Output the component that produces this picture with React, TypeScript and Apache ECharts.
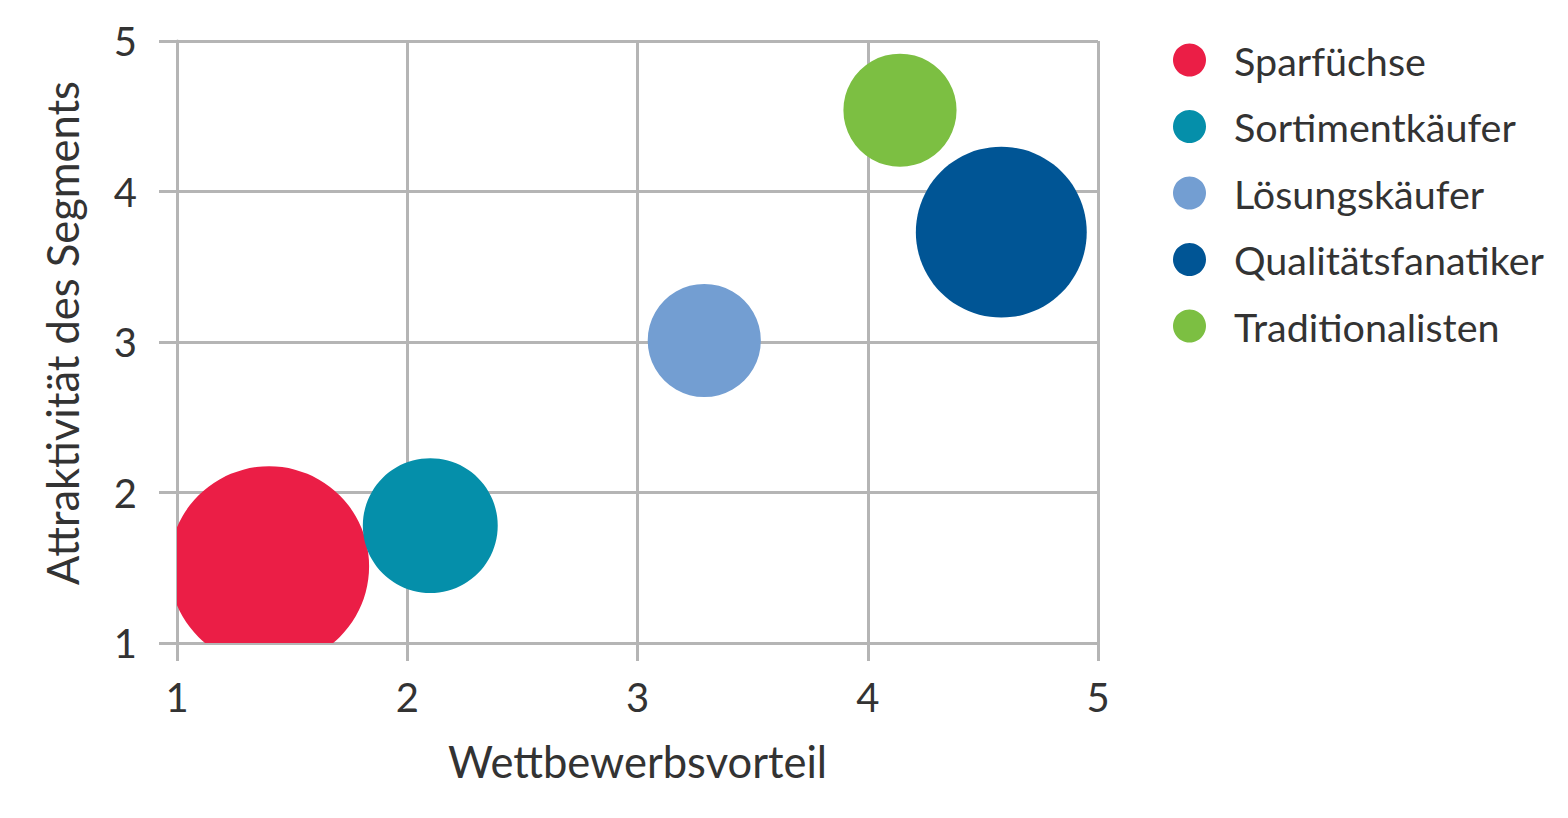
import React, { useEffect, useRef } from "react";
import * as echarts from "echarts";

const segments = ["Sparfüchse", "Sortimentkäufer", "Lösungskäufer", "Qualitätsfanatiker", "Traditionalisten"];
const wettbewerbsvorteil = [1.40, 2.10, 3.29, 4.58, 4.14];
const attraktivitaet = [1.51, 1.78, 3.01, 3.73, 4.54];
const volumen = [400, 182, 128, 292, 128];
const colors = ["#EB1E46", "#058FAA", "#739ED2", "#005595", "#7CBF42"];
const axisTicks = [1, 2, 3, 4, 5];

const FONT = "Lato, 'Open Sans', sans-serif";
const GRAY = "#b5b5b5";
const TEXT = "#333333";

export default function App() {
  const ref = useRef<HTMLDivElement>(null);
  useEffect(() => {
    if (!ref.current) return;
    const chart = echarts.init(ref.current, undefined, { renderer: "svg" });
    const axisCommon = {
      type: "value",
      min: axisTicks[0],
      max: axisTicks[axisTicks.length - 1],
      interval: 1,
      axisLine: { show: true, lineStyle: { color: GRAY, width: 3 } },
      axisTick: { show: true, length: 18, lineStyle: { color: GRAY, width: 3 } },
      splitLine: { show: true, lineStyle: { color: GRAY, width: 3 } },
      nameLocation: "middle",
    };
    chart.setOption({
      animation: false,
      textStyle: { fontFamily: FONT },
      grid: { left: 177, top: 41, width: 921, height: 602, containLabel: false },
      legend: {
        orient: "vertical",
        left: 1168,
        top: 35,
        icon: "circle",
        itemWidth: 33,
        itemHeight: 33,
        itemGap: 26.5,
        data: segments,
        textStyle: {
          fontSize: 39.5,
          lineHeight: 40,
          color: TEXT,
          fontFamily: FONT,
          padding: [0, 0, 0, 23],
        },
      },
      xAxis: {
        ...axisCommon,
        name: "Wettbewerbsvorteil",
        nameGap: 96,
        nameTextStyle: { fontSize: 43.5, color: TEXT, fontFamily: FONT },
        axisLabel: { fontSize: 40, color: TEXT, margin: 34, fontFamily: FONT },
      },
      yAxis: {
        ...axisCommon,
        name: "Attraktivität des Segments",
        nameGap: 93,
        nameTextStyle: { fontSize: 43.5, color: TEXT, fontFamily: FONT, padding: [0, 0, 0, 18] },
        axisLabel: { fontSize: 40, color: TEXT, margin: 40, fontFamily: FONT },
      },
      series: segments.map((name, i) => ({
        name,
        type: "custom",
        clip: true,
        itemStyle: { color: colors[i] },
        emphasis: { disabled: true },
        encode: { x: 0, y: 1 },
        data: [[wettbewerbsvorteil[i], attraktivitaet[i], volumen[i]]],
        renderItem: (params: any, api: any) => {
          const c = api.coord([api.value(0), api.value(1)]);
          const r = (Math.sqrt(api.value(2)) * 10) / 2;
          return {
            type: "circle",
            shape: { cx: c[0], cy: c[1], r },
            style: { fill: colors[i] },
          };
        },
      })),
    });
    return () => chart.dispose();
  }, []);
  return (
    <div
      ref={ref}
      style={{ position: "absolute", left: 0, top: 0, width: 1568, height: 818, background: "#fff" }}
    />
  );
}
